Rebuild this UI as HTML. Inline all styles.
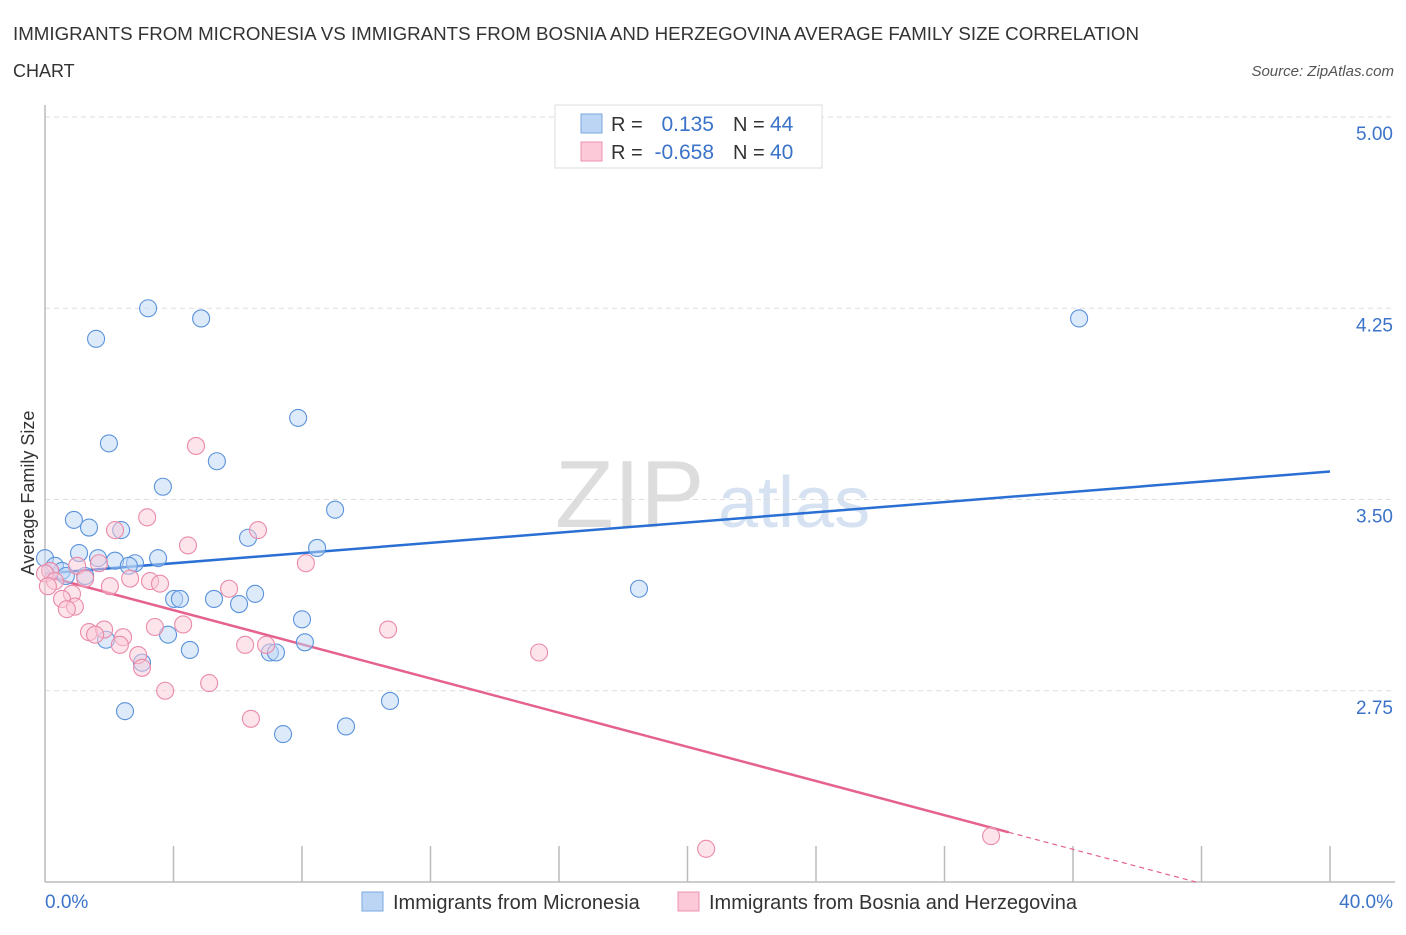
<!DOCTYPE html>
<html><head><meta charset="utf-8"><style>
body{margin:0;background:#fff;font-family:"Liberation Sans",sans-serif;}
svg text{font-family:"Liberation Sans",sans-serif;}
</style></head><body>
<svg id="chart" width="1406" height="930" xmlns="http://www.w3.org/2000/svg">
<text x="13" y="40" font-size="18" fill="#333" textLength="1126" lengthAdjust="spacingAndGlyphs">IMMIGRANTS FROM MICRONESIA VS IMMIGRANTS FROM BOSNIA AND HERZEGOVINA AVERAGE FAMILY SIZE CORRELATION</text>
<text x="13" y="77" font-size="18" fill="#333">CHART</text>
<text x="1394" y="76" font-size="15" fill="#555" font-style="italic" text-anchor="end">Source: ZipAtlas.com</text>
<text x="555" y="527" font-size="96" fill="#ddd" font-family="Liberation Serif">ZIP</text>
<text x="718" y="527" font-size="72" fill="#d6e2f2">atlas</text>
<g id="grid"></g><g id="axes"></g>
<g id="lines"></g><g id="pts"></g>
<text transform="translate(34,493) rotate(-90)" font-size="18" fill="#333" text-anchor="middle">Average Family Size</text>
<g>
<rect x="555" y="105" width="267" height="63" fill="#fff" stroke="#ddd"/>
<rect x="581" y="114" width="21" height="19" fill="#bcd5f5" stroke="#7aa7e0"/>
<rect x="581" y="142" width="21" height="19" fill="#fcc9d8" stroke="#eb93ae"/>
<text x="611" y="131" font-size="20" fill="#333">R =</text>
<text x="714" y="131" font-size="21" fill="#3b73c9" text-anchor="end">0.135</text>
<text x="733" y="131" font-size="20" fill="#333">N =</text>
<text x="770" y="131" font-size="21" fill="#3b73c9">44</text>
<text x="611" y="159" font-size="20" fill="#333">R =</text>
<text x="714" y="159" font-size="21" fill="#3b73c9" text-anchor="end">-0.658</text>
<text x="733" y="159" font-size="20" fill="#333">N =</text>
<text x="770" y="159" font-size="21" fill="#3b73c9">40</text>
</g>
<g>
<rect x="362" y="892" width="21" height="19" fill="#bcd5f5" stroke="#7aa7e0"/>
<text x="393" y="909" font-size="20" fill="#333">Immigrants from Micronesia</text>
<rect x="678" y="892" width="21" height="19" fill="#fcc9d8" stroke="#eb93ae"/>
<text x="709" y="909" font-size="20" fill="#333">Immigrants from Bosnia and Herzegovina</text>
</g>
</svg>
<script>
const yTicks=[2.75,3.5,4.25,5.0];
const yTickLabels=["2.75","3.50","4.25","5.00"];
const blueX=[3.21,4.86,1.59,32.19,7.88,1.99,5.35,3.67,9.03,0.90,1.37,2.37,6.32,8.47,1.06,1.65,0,2.18,3.52,2.80,2.61,0.31,0.53,0.65,1.25,6.54,4.02,4.20,5.26,6.04,18.49,8.00,3.83,1.90,8.09,4.51,7.00,7.19,3.02,2.49,10.74,9.37,7.41,0.16];
const blueY=[4.25,4.21,4.13,4.21,3.82,3.72,3.65,3.55,3.46,3.42,3.39,3.38,3.35,3.31,3.29,3.27,3.27,3.26,3.27,3.25,3.24,3.24,3.22,3.20,3.20,3.13,3.11,3.11,3.11,3.09,3.15,3.03,2.97,2.95,2.94,2.91,2.90,2.90,2.86,2.67,2.71,2.61,2.58,3.22];
const pinkX=[4.70,3.18,6.63,2.18,4.45,8.12,1.00,1.68,0.16,0,0.31,1.25,2.65,3.27,3.58,2.02,5.73,0.09,0.84,0.53,0.93,0.68,3.42,4.30,1.37,1.84,2.43,1.56,2.33,6.23,6.88,10.68,15.38,2.90,3.02,5.11,3.74,6.41,20.58,29.45];
const pinkY=[3.71,3.43,3.38,3.38,3.32,3.25,3.24,3.25,3.22,3.21,3.18,3.19,3.19,3.18,3.17,3.16,3.15,3.16,3.13,3.11,3.08,3.07,3.00,3.01,2.98,2.99,2.96,2.97,2.93,2.93,2.93,2.99,2.90,2.89,2.84,2.78,2.75,2.64,2.13,2.18];
const blueTrend=[3.21,3.61];
const pinkTrend=[3.20,-0.0335];
const NS="http://www.w3.org/2000/svg";
const X=v=>45+v/40*1285, Y=v=>882-(v-2)*255;
function mk(t,a,p){const e=document.createElementNS(NS,t);for(const k in a)e.setAttribute(k,a[k]);document.getElementById(p).appendChild(e);return e;}
yTicks.forEach((t,i)=>{
 const g=mk('line',{x1:45,x2:1395,y1:Y(t),y2:Y(t),stroke:'#ddd','stroke-dasharray':'5,4'},'grid');
 
 
 const l=mk('text',{x:1393,y:Y(t)+23,'font-size':19,fill:'#3b73c9','text-anchor':'end'},'grid');
 l.textContent=yTickLabels[i];
 
 
});
const ax=mk('line',{x1:45,x2:45,y1:105,y2:882,stroke:'#bbb','stroke-width':1.5},'axes');


const bx=mk('line',{x1:45,x2:1395,y1:882,y2:882,stroke:'#bbb','stroke-width':1.5},'axes');


for(let p=4;p<=40;p+=4){const t=mk('line',{x1:X(p),x2:X(p),y1:846,y2:882,stroke:'#bbb','stroke-width':1.5},'axes');
 
 }
const x0=mk('text',{x:45,y:908,'font-size':19,fill:'#3b73c9'},'axes');x0.textContent='0.0%';


const x1=mk('text',{x:1393,y:908,'font-size':19,fill:'#3b73c9','text-anchor':'end'},'axes');x1.textContent='40.0%';


function dots(xs,ys,fill,stroke,name){xs.forEach((v,i)=>{const c=mk('circle',{cx:X(v),cy:Y(ys[i]),r:8.5,fill:fill,'fill-opacity':0.5,stroke:stroke,'stroke-width':1.1},'pts');
 
 });}
dots(blueX,blueY,'#bcd5f5','#5b93dc','micronesia-point');
dots(pinkX,pinkY,'#fcc9d8','#ea8aa9','bosnia-point');
const bl=mk('line',{x1:X(0),y1:Y(blueTrend[0]),x2:X(40),y2:Y(blueTrend[1]),stroke:'#2a6fd4','stroke-width':2.5},'lines');


const pe=30, pz=(2-pinkTrend[0])/pinkTrend[1];
const pl=mk('line',{x1:X(0),y1:Y(pinkTrend[0]),x2:X(pe),y2:Y(pinkTrend[0]+pinkTrend[1]*pe),stroke:'#e5628e','stroke-width':2.5},'lines');


const pd=mk('line',{x1:X(pe),y1:Y(pinkTrend[0]+pinkTrend[1]*pe),x2:X(pz),y2:Y(2),stroke:'#e5628e','stroke-width':1.2,'stroke-dasharray':'5,4'},'lines');


</script>
</body></html>
